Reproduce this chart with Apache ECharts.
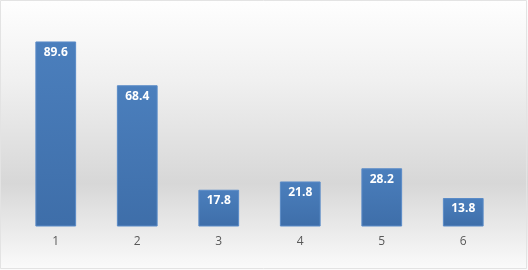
<!DOCTYPE html>
<html>
<head>
<meta charset="utf-8">
<script src="https://cdn.jsdelivr.net/npm/echarts@6/dist/echarts.min.js"></script>
<style>
  html, body { margin: 0; padding: 0; background: #fff; }
  #chart { width: 528px; height: 270px; }
</style>
</head>
<body>
<div id="chart"></div>
<script>
// 数据
const categories = ['1', '2', '3', '4', '5', '6'];
const values = [89.6, 68.4, 17.8, 21.8, 28.2, 13.8];

const chart = echarts.init(document.getElementById('chart'));

const option = {
  animation: false,
  backgroundColor: new echarts.graphic.LinearGradient(0, 0, 0, 1, [
    { offset: 0, color: '#fefefe' },
    { offset: 0.3, color: '#f0f0f0' },
    { offset: 0.68, color: '#d7d7d7' },
    { offset: 1, color: '#fbfbfb' }
  ]),
  graphic: [{
    type: 'rect',
    shape: { x: 0.5, y: 0.5, width: 526, height: 268 },
    style: { fill: 'none', stroke: '#e3e3e3', lineWidth: 1 },
    silent: true
  }],
  grid: {
    left: 15,
    right: 24,
    top: 20,
    bottom: 43.5
  },
  xAxis: {
    type: 'category',
    data: categories,
    axisLine: { show: false },
    axisTick: { show: false },
    axisLabel: {
      color: '#595959',
      fontSize: 12,
      fontFamily: 'Open Sans',
      margin: 9
    }
  },
  yAxis: {
    type: 'value',
    min: 0,
    max: 100,
    show: false,
    splitLine: { show: false }
  },
  series: [{
    type: 'bar',
    data: values,
    barWidth: '50%',
    itemStyle: {
      color: new echarts.graphic.LinearGradient(0, 0, 0, 1, [
        { offset: 0, color: '#4b7fbd' },
        { offset: 1, color: '#3e6ea9' }
      ]),
      borderColor: '#5a8bc7',
      borderWidth: 1
    },
    label: {
      show: true,
      position: 'insideTop',
      distance: 5,
      color: '#ffffff',
      fontWeight: 'bold',
      fontSize: 12,
      fontFamily: 'Open Sans'
    }
  }]
};

chart.setOption(option);
</script>
</body>
</html>
